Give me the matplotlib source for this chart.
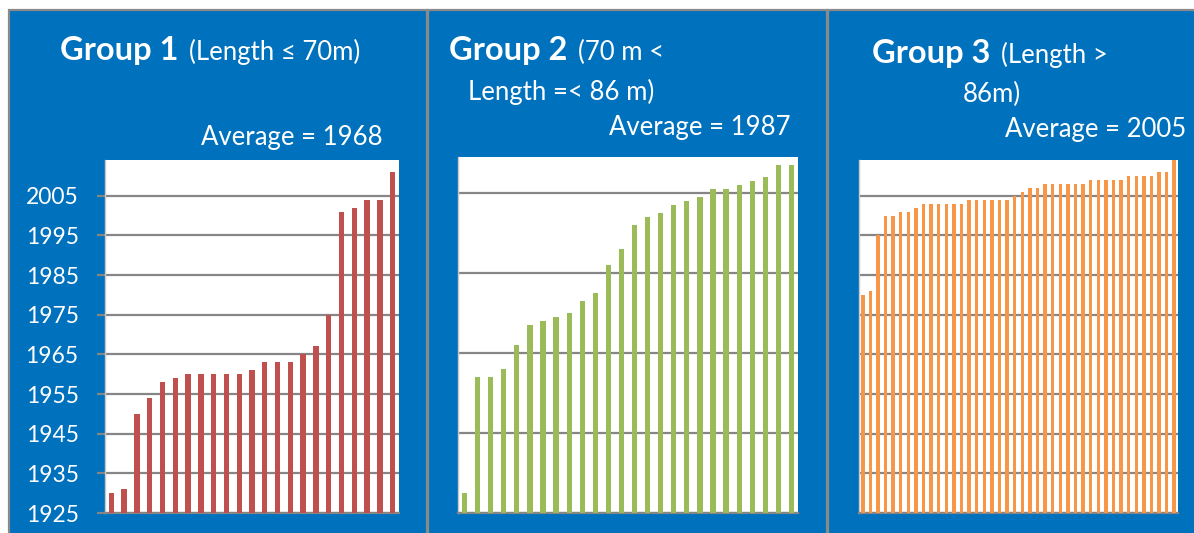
import numpy as np
import matplotlib
matplotlib.use('Agg')
import matplotlib.pyplot as plt
from matplotlib.patches import Rectangle

# build years of the vessels, sorted, one list per length group
group1_years = [1930, 1931, 1950, 1954, 1958, 1959, 1960, 1960, 1960, 1960, 1960, 1961,
                1963, 1963, 1963, 1965, 1967, 1975, 2001, 2002, 2004, 2004, 2011]
group2_years = [1930, 1959, 1959, 1961, 1967, 1972, 1973, 1974, 1975, 1978, 1980, 1987, 1991,
                1997, 1999, 2000, 2002, 2003, 2004, 2006, 2006, 2007, 2008, 2009, 2012, 2012]
group3_years = [1980, 1981, 1995, 2000, 2000, 2001, 2001, 2002,
                2003, 2003, 2003, 2003, 2003, 2003,
                2004, 2004, 2004, 2004, 2004, 2004, 2005, 2006, 2007, 2007,
                2008, 2008, 2008, 2008, 2008, 2008,
                2009, 2009, 2009, 2009, 2009,
                2010, 2010, 2010, 2010, 2011, 2011, 2014]

group_names = ['Group 1', 'Group 2', 'Group 3']
group_ranges = [['(Length \u2264 70m)'], ['(70 m <', 'Length =< 86 m)'], ['(Length >', '86m)']]
averages = [1968, 1987, 2005]
bar_colors = ['#C0504D', '#9BBB59', '#F79646']
grid_steps = [10, 20, 10]

W, H = 1194, 533
BLUE = '#0071BD'
GREY = '#868686'
FONT = ['Lato', 'DejaVu Sans']

def fx(x):
    return x / W

def fy(y):
    return 1 - y / H

fig = plt.figure(figsize=(W / 100, H / 100), dpi=100)
fig.patch.set_facecolor('white')

# panel layout in pixels: (left, right), plot box (l, t, r, b), title positions
panels = [
    dict(x=(9, 427), box=(105, 160, 399, 513), title=(60, 60), lines=[], avg=(383, 145)),
    dict(x=(428, 827), box=(458, 157, 798, 513), title=(449, 60), lines=[(561, 100)], avg=(790, 135)),
    dict(x=(828, 1200), box=(859, 160, 1178, 513), title=(872, 63), lines=[(992, 102)], avg=(1186, 137)),
]
bar_width = [0.42, 0.40, 0.45]

data = [group1_years, group2_years, group3_years]
renderer = fig.canvas.get_renderer()

for i, p in enumerate(panels):
    l, r = p['x']
    fig.add_artist(Rectangle((fx(l), fy(545)), fx(r) - fx(l), fy(10) - fy(545),
                             transform=fig.transFigure, facecolor=BLUE,
                             edgecolor='#8a8a8a', lw=1.6, zorder=0))

    bl, bt, br, bb = p['box']
    ax = fig.add_axes([fx(bl), fy(bb), fx(br) - fx(bl), (bb - bt) / H])
    ax.set_facecolor('white')
    vals = data[i]
    x = np.arange(len(vals))
    ax.bar(x, vals, width=bar_width[i], color=bar_colors[i], zorder=3)
    ax.set_xlim(-0.5, len(vals) - 0.5)
    ax.set_ylim(1925, 2014)
    ax.set_yticks(np.arange(1925, 2006, grid_steps[i]))
    ax.yaxis.grid(True, color=GREY, lw=1.6)
    ax.set_axisbelow(True)
    ax.set_xticks([])
    for s in ['top', 'right']:
        ax.spines[s].set_visible(False)
    ax.spines['bottom'].set_color(GREY)
    ax.spines['bottom'].set_linewidth(1.6)
    ax.spines['left'].set_color('#c8c8c8')
    ax.spines['left'].set_linewidth(1.0)
    if i == 0:
        ax.tick_params(axis='y', colors=GREY, labelcolor='white', length=6, width=1.6,
                       pad=13, labelsize=16.5)
        for t in ax.get_yticklabels():
            t.set_family(FONT)
    else:
        ax.tick_params(axis='y', length=0, labelleft=False)

    # title: bold group name then the length range in normal weight
    tx, ty = p['title']
    t1 = fig.text(fx(tx), fy(ty), group_names[i], color='white', fontsize=23.5,
                  fontweight='bold', family=FONT, va='baseline', ha='left')
    ext = t1.get_window_extent(renderer=renderer)
    fig.text(fx(ext.x1 + 11), fy(ty), group_ranges[i][0], color='white', fontsize=18.5,
             family=FONT, va='baseline', ha='left')
    for (cx, cy), line in zip(p['lines'], group_ranges[i][1:]):
        fig.text(fx(cx), fy(cy), line, color='white', fontsize=18.5, family=FONT,
                 va='baseline', ha='center')

    axx, ayy = p['avg']
    fig.text(fx(axx), fy(ayy), f'Average = {averages[i]}', color='white', fontsize=18.5,
             family=FONT, va='baseline', ha='right')

fig.savefig('out.png', dpi=100, facecolor=fig.get_facecolor())
